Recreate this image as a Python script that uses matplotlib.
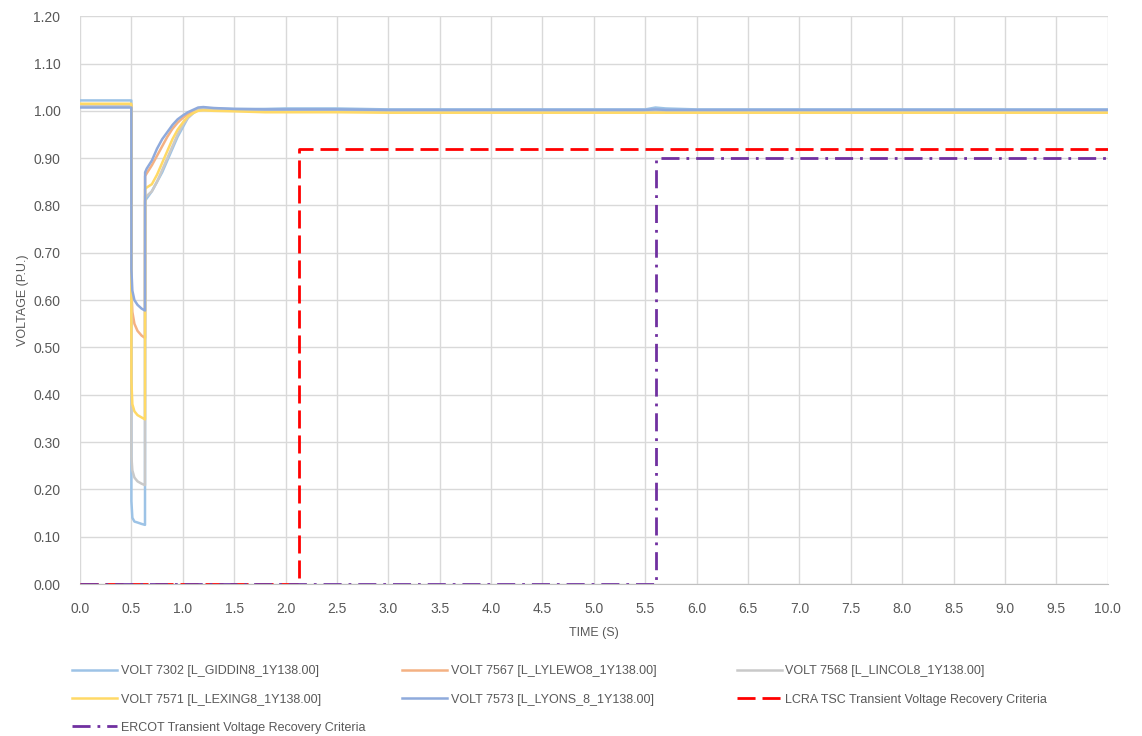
import numpy as np
import matplotlib.pyplot as plt
from matplotlib.ticker import MultipleLocator, FormatStrFormatter

plt.rcParams['font.family'] = ['Liberation Sans', 'DejaVu Sans']

# tempo comum para as 5 barras (s)
tempo = [0, 0.5, 0.5005, 0.51, 0.53, 0.56, 0.6, 0.633,
         0.634, 0.65, 0.7, 0.75, 0.8, 0.85, 0.9, 0.95, 1.0, 1.05, 1.1, 1.15,
         1.2, 1.3, 1.5, 1.8, 2.0, 2.5, 3.0, 4.0, 5.5, 5.6, 5.7, 6.0, 8.0, 10.0]

volt_7302 = [1.022, 1.022, 0.175, 0.140, 0.132, 0.130, 0.127, 0.125,
             0.810, 0.815, 0.830, 0.850, 0.870, 0.895, 0.920, 0.945, 0.965, 0.985, 0.995, 1.003,
             1.006, 1.005, 1.004, 1.004, 1.005, 1.005, 1.003, 1.003, 1.003, 1.007, 1.005, 1.003, 1.003, 1.003]
volt_7567 = [1.012, 1.012, 0.620, 0.575, 0.550, 0.535, 0.525, 0.520,
             0.862, 0.868, 0.885, 0.905, 0.925, 0.945, 0.962, 0.975, 0.985, 0.993, 0.999, 1.003,
             1.004, 1.002, 1.001, 0.999, 0.999, 0.999, 0.998, 0.998, 0.998, 0.999, 0.998, 0.998, 0.998, 0.998]
volt_7568 = [1.010, 1.010, 0.270, 0.240, 0.225, 0.217, 0.212, 0.209,
             0.820, 0.820, 0.830, 0.850, 0.875, 0.900, 0.925, 0.950, 0.970, 0.985, 0.995, 1.002,
             1.004, 1.003, 1.001, 1.000, 1.000, 1.000, 1.000, 1.000, 1.000, 1.000, 1.000, 1.000, 1.000, 1.000]
volt_7571 = [1.015, 1.015, 0.430, 0.380, 0.365, 0.357, 0.352, 0.348,
             0.835, 0.838, 0.845, 0.865, 0.890, 0.915, 0.940, 0.960, 0.975, 0.988, 0.995, 1.000,
             1.001, 1.000, 0.999, 0.997, 0.997, 0.997, 0.996, 0.996, 0.996, 0.996, 0.996, 0.996, 0.996, 0.996]
volt_7573 = [1.007, 1.007, 0.665, 0.620, 0.600, 0.590, 0.582, 0.578,
             0.870, 0.878, 0.895, 0.920, 0.940, 0.955, 0.970, 0.982, 0.990, 0.997, 1.002, 1.007,
             1.008, 1.006, 1.004, 1.003, 1.003, 1.003, 1.002, 1.002, 1.002, 1.003, 1.002, 1.002, 1.002, 1.002]

# criterios
lcra_t = [0, 2.13, 2.13, 10]
lcra_v = [0, 0, 0.92, 0.92]
ercot_t = [0, 5.6, 5.6, 10]
ercot_v = [0, 0, 0.90, 0.90]

nomes = ['VOLT 7302 [L_GIDDIN8_1Y138.00]', 'VOLT 7567 [L_LYLEWO8_1Y138.00]',
         'VOLT 7568 [L_LINCOL8_1Y138.00]', 'VOLT 7571 [L_LEXING8_1Y138.00]',
         'VOLT 7573 [L_LYONS_8_1Y138.00]']
cores = ['#9DC3E6', '#F4B183', '#C9C9C9', '#FFD966', '#8FAADC']
series = [volt_7302, volt_7567, volt_7568, volt_7571, volt_7573]

cinza = '#595959'

fig = plt.figure(figsize=(11.42, 7.36), dpi=100)
ax = fig.add_axes([0.070, 0.2065, 0.900, 0.7715])

linhas = []
for nome, cor, v in zip(nomes, cores, series):
    l, = ax.plot(tempo, v, color=cor, lw=1.8, label=nome)
    linhas.append(l)

l_lcra, = ax.plot(lcra_t, lcra_v, color='#FF0000', lw=2, dashes=(6.5, 2.5),
                  label='LCRA TSC Transient Voltage Recovery Criteria')
l_ercot, = ax.plot(ercot_t, ercot_v, color='#7030A0', lw=2, dashes=(6.5, 2.5, 1, 2.5),
                   label='ERCOT Transient Voltage Recovery Criteria')

ax.set_xlim(0, 10)
ax.set_ylim(0, 1.2)
ax.xaxis.set_major_locator(MultipleLocator(0.5))
ax.yaxis.set_major_locator(MultipleLocator(0.1))
ax.xaxis.set_major_formatter(FormatStrFormatter('%.1f'))
ax.yaxis.set_major_formatter(FormatStrFormatter('%.2f'))
ax.grid(True, color='#D9D9D9', lw=1)
ax.set_axisbelow(True)
for s in ['top', 'right', 'left']:
    ax.spines[s].set_visible(False)
ax.spines['bottom'].set_color('#BFBFBF')
ax.tick_params(length=0, labelsize=10, colors=cinza)
ax.tick_params(axis='x', pad=13)
ax.tick_params(axis='y', pad=14)

ax.set_xlabel('TIME (S)', fontsize=9, color=cinza, labelpad=8)
ax.set_ylabel('VOLTAGE (P.U.)', fontsize=9, color=cinza, labelpad=3)

# legenda em 3 colunas, ordem por linha
colunas = [[linhas[0], linhas[3], l_ercot],
           [linhas[1], linhas[4]],
           [linhas[2], l_lcra]]
x_col = [0.063, 0.352, 0.645]
for hs, xc in zip(colunas, x_col):
    fig.legend(handles=hs, loc='upper left', bbox_to_anchor=(xc, 0.096),
               frameon=False, fontsize=9, labelcolor=cinza, handlelength=3.6,
               handletextpad=0.3, labelspacing=1.3, borderaxespad=0, borderpad=0)

fig.savefig('out.png', dpi=100)
